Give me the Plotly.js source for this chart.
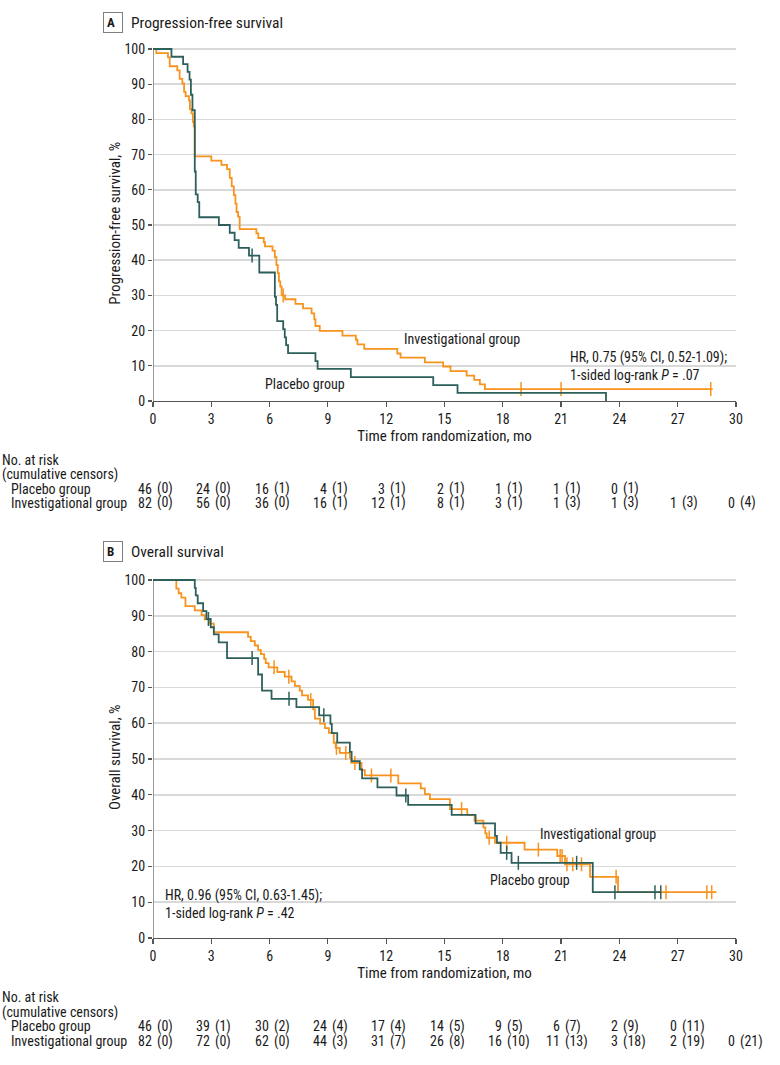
<!DOCTYPE html>
<html><head><meta charset="utf-8">
<script src="https://cdn.plot.ly/plotly-3.0.1.min.js"></script>
<style>html,body{margin:0;padding:0;background:#fff}</style>
</head><body><div id="chart" style="width:780px;height:1065px"></div>
<script>
// ---------- DATA ----------
// Panel A: progression-free survival (step change points: time in months, survival %)
var pfsPlaceboT = [0, 0.95, 1.55, 1.78, 1.88, 1.95, 2.03, 2.15, 2.2, 2.3, 2.38, 3.39, 3.95, 4.2, 4.41, 4.94, 5.47, 6.27, 6.33, 6.39, 6.7, 6.78, 6.85, 6.95, 8.36, 8.47, 10.18, 14.42, 15.67, 23.31];
var pfsPlaceboS = [100, 97.8, 95.7, 93.5, 91.3, 87.0, 82.6, 65.2, 58.7, 56.5, 52.2, 50.0, 47.8, 45.7, 43.5, 41.3, 36.5, 29.6, 27.3, 22.7, 20.4, 18.1, 15.9, 13.6, 11.3, 9.1, 6.8, 4.5, 2.3, 0];
var pfsPlaceboCensT = [5.1];
var pfsPlaceboCensS = [41.3];

var pfsInvT = [0, 0.17, 0.77, 0.86, 1.25, 1.37, 1.51, 1.6, 1.68, 1.85, 1.9, 1.98, 2.05, 2.1, 2.15, 3.0, 3.52, 3.81, 3.95, 4.05, 4.16, 4.24, 4.3, 4.38, 4.46, 5.32, 5.42, 5.7, 5.76, 6.15, 6.27, 6.35, 6.42, 6.48, 6.55, 6.62, 6.8, 7.33, 7.72, 8.16, 8.3, 8.36, 8.58, 9.75, 10.44, 10.52, 10.87, 12.57, 12.74, 13.99, 14.93, 15.31, 16.14, 16.53, 16.82, 17.08, 28.8];
var pfsInvS = [100, 98.8, 97.6, 95.1, 93.9, 91.5, 90.2, 87.8, 86.6, 85.4, 82.9, 81.7, 79.3, 78.0, 69.5, 68.3, 67.1, 65.9, 63.4, 61.0, 58.5, 56.1, 53.7, 52.4, 48.8, 47.6, 46.3, 45.1, 43.9, 42.7, 40.9, 38.6, 36.3, 34.0, 32.5, 30.0, 28.9, 27.6, 26.3, 24.9, 23.2, 21.3, 19.9, 18.6, 17.4, 16.1, 14.8, 13.5, 12.3, 11.0, 9.8, 8.5, 7.2, 6.0, 4.7, 3.4, 3.4];
var pfsInvCensT = [6.7, 18.94, 21.0, 28.7];
var pfsInvCensS = [30.0, 3.4, 3.4, 3.4];

// Panel B: overall survival
var osPlaceboT = [0, 2.15, 2.2, 2.3, 2.58, 2.75, 2.97, 3.13, 3.38, 3.81, 5.41, 5.61, 6.1, 7.38, 8.55, 9.13, 9.2, 9.48, 10.13, 10.22, 10.64, 10.76, 11.55, 12.53, 13.13, 15.37, 16.6, 17.6, 17.7, 17.89, 18.45, 22.63, 26.13];
var osPlaceboS = [100, 97.8, 95.7, 93.5, 91.3, 89.1, 86.8, 84.8, 82.6, 78.2, 73.6, 69.1, 66.8, 64.5, 62.2, 59.8, 57.2, 54.6, 52.0, 49.4, 47.1, 44.6, 42.1, 39.8, 37.2, 34.4, 32.0, 28.5, 26.6, 23.8, 21.0, 12.8, 12.8];
var osPlaceboCensT = [2.85, 5.1, 7.0, 8.79, 13.01, 18.2, 18.8, 21.8, 23.77, 25.83, 26.13];
var osPlaceboCensS = [89.1, 78.2, 66.8, 62.2, 39.8, 23.8, 21.0, 21.0, 12.8, 12.8, 12.8];

var osInvT = [0, 1.2, 1.32, 1.46, 1.67, 2.15, 2.5, 2.66, 2.92, 3.13, 4.89, 5.03, 5.24, 5.41, 5.55, 5.72, 5.8, 5.95, 6.4, 6.78, 7.13, 7.3, 7.55, 7.67, 7.98, 8.24, 8.33, 8.6, 8.85, 9.05, 9.3, 9.4, 9.61, 10.13, 10.2, 10.73, 10.9, 12.62, 13.78, 13.99, 14.25, 15.28, 16.17, 16.55, 17.0, 17.1, 17.17, 17.6, 19.12, 20.8, 21.2, 22.49, 23.93, 29.0];
var osInvS = [100, 97.6, 96.3, 95.1, 92.7, 91.5, 90.2, 89.0, 87.8, 85.4, 84.1, 82.9, 81.7, 80.5, 79.3, 78.0, 76.8, 75.6, 74.3, 73.0, 71.7, 70.4, 69.1, 67.8, 66.5, 63.9, 61.3, 59.9, 58.6, 57.3, 54.5, 53.1, 51.7, 50.3, 48.9, 46.9, 45.4, 43.2, 41.8, 40.2, 38.8, 36.0, 34.4, 32.8, 30.9, 29.2, 28.0, 26.6, 24.7, 22.9, 20.6, 17.1, 12.8, 12.8];
var osInvCensT = [6.23, 6.99, 8.12, 9.44, 9.92, 10.39, 11.24, 12.24, 15.88, 17.3, 18.2, 19.83, 20.95, 21.05, 21.3, 21.6, 22.05, 23.83, 26.4, 28.5, 28.75];
var osInvCensS = [75.6, 73.0, 66.5, 53.1, 51.7, 48.9, 45.4, 45.4, 36.0, 28.0, 26.6, 24.7, 22.9, 22.9, 20.6, 20.6, 20.6, 17.1, 12.8, 12.8, 12.8];

// Number at risk tables
var riskTicks = [0, 3, 6, 9, 12, 15, 18, 21, 24, 27, 30];
var pfsPlaceboRisk = [46, 24, 16, 4, 3, 2, 1, 1, 0];
var pfsPlaceboCens = [0, 0, 1, 1, 1, 1, 1, 1, 1];
var pfsInvRisk = [82, 56, 36, 16, 12, 8, 3, 1, 1, 1, 0];
var pfsInvCens = [0, 0, 0, 1, 1, 1, 1, 3, 3, 3, 4];
var osPlaceboRisk = [46, 39, 30, 24, 17, 14, 9, 6, 2, 0];
var osPlaceboCens = [0, 1, 2, 4, 4, 5, 5, 7, 9, 11];
var osInvRisk = [82, 72, 62, 44, 31, 26, 16, 11, 3, 2, 0];
var osInvCens = [0, 0, 0, 3, 7, 8, 10, 13, 18, 19, 21];

var xTickVals = [0, 3, 6, 9, 12, 15, 18, 21, 24, 27, 30];
var yTickVals = [0, 10, 20, 30, 40, 50, 60, 70, 80, 90, 100];

// ---------- STYLE / GEOMETRY ----------
var W = 780, H = 1065, L = 153, R = 44, T = 45, B = 127;
var PW = W - L - R, PH = H - T - B;
function px2x(px) { return (px - L) / PW; }
function py2y(py) { return 1 - (py - T) / PH; }

var ORANGE = '#F7931E', TEAL = '#2D5F5B';
var FONT = "'Liberation Sans Narrow', 'Roboto Condensed', 'Arial Narrow', Lato, sans-serif";
var TXT = '#1a1a1a';
var FS = 14;

function curve(x, y, color, xa, ya) {
  return {x: x, y: y, xaxis: xa, yaxis: ya, mode: 'lines', type: 'scatter',
    line: {shape: 'hv', color: color, width: 1.8}, hoverinfo: 'skip', showlegend: false};
}
function cens(x, y, color, xa, ya) {
  return {x: x, y: y, xaxis: xa, yaxis: ya, mode: 'markers', type: 'scatter',
    marker: {symbol: 'line-ns-open', size: 10, line: {color: color, width: 1.5}, color: color},
    hoverinfo: 'skip', showlegend: false};
}

var data = [
  curve(pfsInvT, pfsInvS, ORANGE, 'x', 'y'),
  cens(pfsInvCensT, pfsInvCensS, ORANGE, 'x', 'y'),
  curve(pfsPlaceboT, pfsPlaceboS, TEAL, 'x', 'y'),
  cens(pfsPlaceboCensT, pfsPlaceboCensS, TEAL, 'x', 'y'),
  curve(osInvT, osInvS, ORANGE, 'x2', 'y2'),
  cens(osInvCensT, osInvCensS, ORANGE, 'x2', 'y2'),
  curve(osPlaceboT, osPlaceboS, TEAL, 'x2', 'y2'),
  cens(osPlaceboCensT, osPlaceboCensS, TEAL, 'x2', 'y2')
];

function xAxis(anchor, titleText) {
  return {anchor: anchor, domain: [0, 1], range: [0, 30], tickvals: xTickVals, ticktext: xTickVals.map(String),
    showline: true, linecolor: '#555', linewidth: 1.2, ticks: 'outside', ticklen: 5, tickcolor: '#555', tickwidth: 1.2,
    showgrid: false, zeroline: false, tickfont: {family: FONT, size: FS, color: TXT},
    title: {text: titleText, font: {family: FONT, size: 15, color: TXT}, standoff: 4}, automargin: false};
}
function yAxis(anchor, domain, titleText) {
  return {anchor: anchor, domain: domain, range: [0, 101], tickvals: yTickVals, ticktext: yTickVals.map(String),
    showline: false, ticks: 'outside', ticklen: 4, tickcolor: '#555', tickwidth: 1.2,
    showgrid: true, gridcolor: '#d9d9d9', gridwidth: 1.5, zeroline: false,
    tickfont: {family: FONT, size: FS, color: TXT},
    title: {text: titleText, font: {family: FONT, size: 15, color: TXT}, standoff: 0}, automargin: false};
}

var topDomain = [py2y(401), py2y(401 - 101 * 3.52)];
var botDomain = [py2y(938), py2y(938 - 101 * 3.58)];

var ann = [];
function addText(text, x, y, xref, yref, xanchor, size, extra) {
  var a = {text: text, x: x, y: y, xref: xref, yref: yref, xanchor: xanchor, yanchor: 'middle',
    showarrow: false, align: 'left', font: {family: FONT, size: size || FS, color: TXT}};
  if (extra) for (var k in extra) a[k] = extra[k];
  ann.push(a);
}
// panel headers
addText('<b>A</b>', px2x(112.5), py2y(22.7), 'paper', 'paper', 'center', 13,
  {bordercolor: '#7f7f7f', borderwidth: 1, borderpad: 3, width: 12, height: 13});
addText('Progression-free survival', px2x(129), py2y(23), 'paper', 'paper', 'left', 15.5);
addText('<b>B</b>', px2x(112.5), py2y(551.5), 'paper', 'paper', 'center', 13,
  {bordercolor: '#7f7f7f', borderwidth: 1, borderpad: 3, width: 12, height: 13});
addText('Overall survival', px2x(129), py2y(552), 'paper', 'paper', 'left', 15.5);

// in-plot labels
addText('Investigational group', 12.8, 17.6, 'x', 'y', 'left', FS);
addText('Placebo group', 5.65, 4.8, 'x', 'y', 'left', FS);
addText('HR, 0.75 (95% CI, 0.52-1.09);<br>1-sided log-rank <i>P</i> = .07', 21.35, 9.9, 'x', 'y', 'left', FS);
addText('Investigational group', 19.82, 29.0, 'x2', 'y2', 'left', FS);
addText('Placebo group', 17.25, 16.2, 'x2', 'y2', 'left', FS);
addText('HR, 0.96 (95% CI, 0.63-1.45);<br>1-sided log-rank <i>P</i> = .42', 0.5, 9.6, 'x2', 'y2', 'left', FS);

// at-risk tables
function table(xref, rowY, risk1, cens1, risk2, cens2) {
  addText('No. at risk', px2x(0), py2y(rowY[0]), 'paper', 'paper', 'left', FS);
  addText('(cumulative censors)', px2x(0), py2y(rowY[1]), 'paper', 'paper', 'left', FS);
  addText('Placebo group', px2x(9), py2y(rowY[2]), 'paper', 'paper', 'left', FS);
  addText('Investigational group', px2x(9), py2y(rowY[3]), 'paper', 'paper', 'left', FS);
  var rows = [[risk1, cens1, rowY[2]], [risk2, cens2, rowY[3]]];
  rows.forEach(function (r) {
    for (var i = 0; i < r[0].length; i++) {
      addText(String(r[0][i]), riskTicks[i], py2y(r[2]), xref, 'paper', 'right', FS, {xshift: 1});
      addText('(' + r[1][i] + ')', riskTicks[i], py2y(r[2]), xref, 'paper', 'left', FS, {xshift: 2});
    }
  });
}
table('x', [460, 475, 489, 503], pfsPlaceboRisk, pfsPlaceboCens, pfsInvRisk, pfsInvCens);
table('x2', [997, 1012, 1026, 1041], osPlaceboRisk, osPlaceboCens, osInvRisk, osInvCens);

// y-axis lines from 0 to 100
var shapes = [
  {type: 'line', xref: 'x', yref: 'y', x0: 0, x1: 0, y0: 0, y1: 100, line: {color: '#555', width: 1.2}},
  {type: 'line', xref: 'x2', yref: 'y2', x0: 0, x1: 0, y0: 0, y1: 100, line: {color: '#555', width: 1.2}}
];

var layout = {
  width: W, height: H, margin: {l: L, r: R, t: T, b: B, pad: 0},
  paper_bgcolor: '#fff', plot_bgcolor: '#fff', showlegend: false,
  font: {family: FONT, size: FS, color: TXT},
  xaxis: xAxis('y', 'Time from randomization, mo'),
  yaxis: yAxis('x', topDomain, 'Progression-free survival, %'),
  xaxis2: xAxis('y2', 'Time from randomization, mo'),
  yaxis2: yAxis('x2', botDomain, 'Overall survival, %'),
  annotations: ann, shapes: shapes
};

Plotly.newPlot('chart', data, layout, {displayModeBar: false, staticPlot: true});
</script></body></html>
